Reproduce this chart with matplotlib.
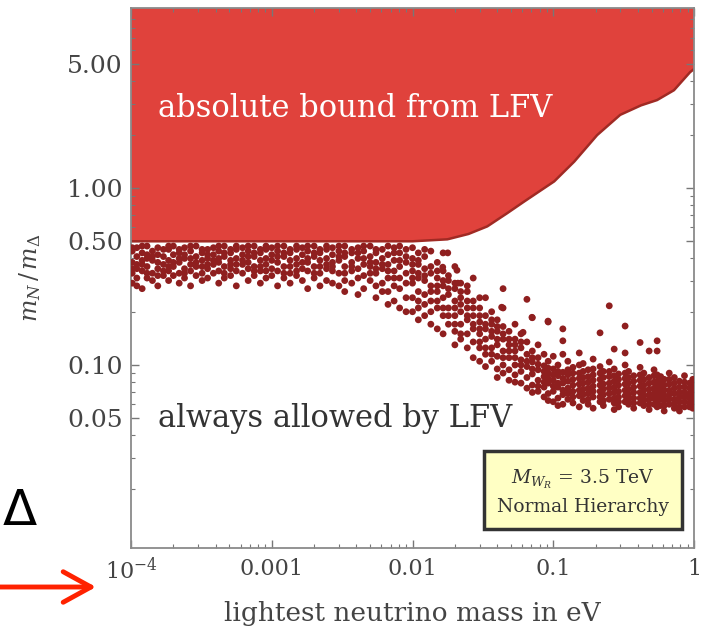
import matplotlib.pyplot as plt
from matplotlib.patches import FancyArrowPatch
from matplotlib.ticker import FixedLocator, LogLocator, NullFormatter

plt.rcParams['font.family'] = 'DejaVu Serif'
plt.rcParams['mathtext.fontset'] = 'dejavuserif'

# lower edge of the region excluded by LFV
bound_mass = [1e-4, 0.01, 0.0177, 0.025, 0.034, 0.047, 0.0622, 0.1016, 0.141,
              0.205, 0.299, 0.42, 0.547, 0.721, 0.937, 1.0]
bound_ratio = [0.5, 0.5, 0.513, 0.55, 0.607, 0.72, 0.839, 1.09, 1.41,
               1.99, 2.59, 2.93, 3.14, 3.57, 4.51, 4.7]

# scan points, grouped by lightest mass: (m_lightest, [m_N/m_Delta, ...])
flat_points = [
    (1.02e-4, [0.46, 0.44, 0.38, 0.35, 0.33, 0.29]),
    (1.1e-4, [0.46, 0.41, 0.37, 0.35, 0.31, 0.28]),
    (1.2e-4, [0.47, 0.43, 0.39, 0.37, 0.34, 0.27]),
    (1.3e-4, [0.47, 0.42, 0.40, 0.36, 0.33, 0.31]),
    (1.42e-4, [0.44, 0.41, 0.39, 0.33, 0.30]),
    (1.55e-4, [0.46, 0.42, 0.38, 0.35, 0.32, 0.28]),
    (1.7e-4, [0.45, 0.41, 0.37, 0.34, 0.32]),
    (1.85e-4, [0.47, 0.45, 0.39, 0.36, 0.34, 0.30]),
    (2.0e-4, [0.47, 0.42, 0.38, 0.36, 0.32]),
    (2.2e-4, [0.45, 0.43, 0.40, 0.38, 0.33, 0.29]),
    (2.4e-4, [0.46, 0.42, 0.40, 0.35, 0.33, 0.31]),
    (2.65e-4, [0.47, 0.44, 0.40, 0.37, 0.34, 0.28]),
    (2.9e-4, [0.47, 0.41, 0.38, 0.36, 0.32]),
    (3.2e-4, [0.45, 0.43, 0.39, 0.36, 0.33, 0.30]),
    (3.5e-4, [0.45, 0.42, 0.40, 0.37, 0.35, 0.31]),
    (3.85e-4, [0.46, 0.42, 0.39, 0.37, 0.33]),
    (4.2e-4, [0.47, 0.44, 0.40, 0.38, 0.34, 0.29]),
    (4.6e-4, [0.47, 0.43, 0.41, 0.36, 0.33, 0.31]),
    (5.1e-4, [0.45, 0.43, 0.39, 0.37, 0.35, 0.32]),
    (5.6e-4, [0.47, 0.45, 0.40, 0.37, 0.34, 0.28]),
    (6.2e-4, [0.46, 0.42, 0.39, 0.37, 0.33]),
    (6.8e-4, [0.47, 0.44, 0.41, 0.38, 0.35, 0.30]),
    (7.5e-4, [0.47, 0.43, 0.41, 0.36, 0.34, 0.32]),
    (8.3e-4, [0.45, 0.43, 0.39, 0.36, 0.34, 0.29]),
    (9.1e-4, [0.47, 0.45, 0.40, 0.37, 0.34, 0.31]),
    (1.0e-3, [0.46, 0.42, 0.39, 0.35, 0.32]),
    (1.1e-3, [0.47, 0.44, 0.41, 0.38, 0.34, 0.28]),
    (1.22e-3, [0.47, 0.43, 0.41, 0.36, 0.33, 0.31]),
    (1.35e-3, [0.45, 0.43, 0.39, 0.36, 0.33, 0.29]),
    (1.5e-3, [0.47, 0.45, 0.40, 0.37, 0.34, 0.32]),
    (1.65e-3, [0.46, 0.42, 0.38, 0.35, 0.30]),
    (1.8e-3, [0.47, 0.44, 0.40, 0.38, 0.34, 0.27]),
    (2.0e-3, [0.47, 0.43, 0.41, 0.36, 0.33, 0.31]),
    (2.2e-3, [0.45, 0.43, 0.39, 0.36, 0.33, 0.28]),
    (2.45e-3, [0.47, 0.45, 0.40, 0.37, 0.35, 0.30]),
    (2.7e-3, [0.46, 0.42, 0.38, 0.36, 0.34, 0.29]),
    (3.0e-3, [0.47, 0.44, 0.41, 0.39, 0.33, 0.28]),
    (3.3e-3, [0.47, 0.43, 0.41, 0.36, 0.33, 0.30, 0.26]),
    (3.7e-3, [0.45, 0.43, 0.38, 0.36, 0.34, 0.29]),
    (4.1e-3, [0.46, 0.43, 0.40, 0.35, 0.31, 0.25]),
    (4.5e-3, [0.47, 0.44, 0.40, 0.37, 0.32, 0.27]),
    (5.0e-3, [0.47, 0.41, 0.38, 0.36, 0.33, 0.30]),
    (5.5e-3, [0.45, 0.43, 0.38, 0.35, 0.33, 0.28, 0.24]),
    (6.1e-3, [0.45, 0.40, 0.37, 0.35, 0.29, 0.26]),
    (6.7e-3, [0.47, 0.42, 0.37, 0.34, 0.31, 0.26, 0.22]),
    (7.4e-3, [0.46, 0.43, 0.39, 0.34, 0.31, 0.28, 0.23]),
    (8.1e-3, [0.47, 0.43, 0.39, 0.36, 0.31, 0.27, 0.21]),
    (9.0e-3, [0.45, 0.41, 0.38, 0.33, 0.29, 0.24, 0.20]),
]

falling_points = [
    (0.0100, [0.46, 0.40, 0.37, 0.34, 0.31, 0.29, 0.24, 0.20]),
    (0.0110, [0.43, 0.39, 0.37, 0.33, 0.31, 0.26, 0.23, 0.21, 0.18]),
    (0.0122, [0.45, 0.41, 0.35, 0.32, 0.30, 0.25, 0.22, 0.19]),
    (0.0135, [0.44, 0.36, 0.33, 0.28, 0.26, 0.23, 0.20, 0.17]),
    (0.0150, [0.38, 0.34, 0.31, 0.28, 0.26, 0.23, 0.21, 0.16]),
    (0.0165, [0.43, 0.34, 0.30, 0.28, 0.24, 0.21, 0.19, 0.15]),
    (0.0180, [0.32, 0.30, 0.27, 0.25, 0.21, 0.19, 0.17]),
    (0.0200, [0.36, 0.29, 0.27, 0.23, 0.21, 0.19, 0.17, 0.155, 0.13]),
    (0.0220, [0.29, 0.26, 0.24, 0.22, 0.20, 0.17, 0.15, 0.14]),
    (0.0245, [0.28, 0.26, 0.23, 0.21, 0.19, 0.18, 0.15, 0.125]),
    (0.0270, [0.31, 0.23, 0.21, 0.19, 0.17, 0.16, 0.135, 0.11]),
    (0.0300, [0.24, 0.21, 0.19, 0.175, 0.16, 0.15, 0.135, 0.125, 0.105]),
    (0.0330, [0.24, 0.19, 0.17, 0.16, 0.14, 0.125, 0.115, 0.098]),
    (0.0365, [0.20, 0.18, 0.17, 0.155, 0.145, 0.125, 0.115, 0.105]),
    (0.0400, [0.18, 0.165, 0.155, 0.14, 0.13, 0.112, 0.095, 0.085]),
    (0.0440, [0.27, 0.21, 0.165, 0.15, 0.14, 0.12, 0.11, 0.10, 0.09]),
    (0.0485, [0.155, 0.14, 0.13, 0.12, 0.11, 0.094, 0.082]),
    (0.0535, [0.17, 0.14, 0.13, 0.12, 0.11, 0.10, 0.088, 0.08]),
    (0.0590, [0.15, 0.135, 0.125, 0.107, 0.1, 0.092, 0.079]),
    (0.0650, [0.235, 0.135, 0.115, 0.105, 0.098, 0.085, 0.074]),
    (0.0710, [0.185, 0.12, 0.11, 0.104, 0.095, 0.089, 0.077, 0.07]),
    (0.0780, [0.13, 0.11, 0.101, 0.094, 0.082, 0.076, 0.071]),
    (0.0860, [0.115, 0.099, 0.092, 0.086, 0.08, 0.075, 0.066]),
    (0.0920, [0.175, 0.105, 0.096, 0.09, 0.084, 0.079, 0.069, 0.063]),
]

tail_points = [
    (0.100, [0.112, 0.095, 0.088, 0.082, 0.076, 0.071, 0.062]),
    (0.108, [0.10, 0.092, 0.087, 0.079, 0.075, 0.065, 0.059]),
    (0.117, [0.16, 0.137, 0.115, 0.091, 0.084, 0.079, 0.072, 0.068, 0.060]),
    (0.127, [0.105, 0.094, 0.088, 0.081, 0.074, 0.069, 0.064]),
    (0.138, [0.097, 0.09, 0.083, 0.077, 0.071, 0.066, 0.061]),
    (0.153, [0.117, 0.1, 0.09, 0.084, 0.078, 0.072, 0.067, 0.058]),
    (0.163, [0.102, 0.092, 0.085, 0.079, 0.073, 0.068, 0.063]),
    (0.177, [0.094, 0.086, 0.08, 0.074, 0.069, 0.064, 0.06]),
    (0.192, [0.108, 0.095, 0.088, 0.082, 0.076, 0.071, 0.066, 0.057]),
    (0.215, [0.152, 0.098, 0.09, 0.083, 0.077, 0.071, 0.066, 0.062]),
    (0.227, [0.092, 0.085, 0.078, 0.073, 0.068, 0.063, 0.059]),
    (0.250, [0.216, 0.104, 0.092, 0.086, 0.079, 0.074, 0.069, 0.064]),
    (0.271, [0.123, 0.095, 0.087, 0.081, 0.075, 0.07, 0.065, 0.061, 0.056]),
    (0.291, [0.089, 0.083, 0.077, 0.071, 0.066, 0.062, 0.058]),
    (0.324, [0.166, 0.117, 0.1, 0.09, 0.084, 0.078, 0.072, 0.067, 0.062]),
    (0.343, [0.092, 0.085, 0.079, 0.073, 0.068, 0.064, 0.06]),
    (0.373, [0.087, 0.081, 0.075, 0.07, 0.065, 0.061, 0.057]),
    (0.414, [0.134, 0.097, 0.088, 0.082, 0.076, 0.07, 0.065, 0.061]),
    (0.44, [0.09, 0.083, 0.077, 0.072, 0.067, 0.063, 0.059]),
    (0.48, [0.12, 0.085, 0.079, 0.073, 0.068, 0.064, 0.06, 0.056]),
    (0.52, [0.094, 0.087, 0.08, 0.074, 0.069, 0.065, 0.06]),
    (0.547, [0.137, 0.12, 0.088, 0.081, 0.076, 0.071, 0.066, 0.062, 0.058]),
    (0.58, [0.086, 0.079, 0.073, 0.068, 0.064, 0.059]),
    (0.614, [0.083, 0.077, 0.072, 0.067, 0.063, 0.059, 0.055]),
    (0.667, [0.09, 0.083, 0.078, 0.072, 0.068, 0.064, 0.06]),
    (0.725, [0.085, 0.079, 0.074, 0.069, 0.064, 0.06, 0.057]),
    (0.788, [0.081, 0.075, 0.07, 0.066, 0.062, 0.058, 0.055]),
    (0.856, [0.087, 0.08, 0.075, 0.07, 0.066, 0.062, 0.058]),
    (0.93, [0.079, 0.074, 0.069, 0.065, 0.061, 0.058]),
    (0.98, [0.083, 0.077, 0.072, 0.067, 0.064, 0.06, 0.057]),
]

stray_mass = [0.0164, 0.0207, 0.021, 0.0178, 0.043, 0.0706, 0.0918, 0.061]
stray_ratio = [0.357, 0.343, 0.29, 0.43, 0.212, 0.186, 0.177, 0.153]

scan_mass, scan_ratio = list(stray_mass), list(stray_ratio)
for group in (flat_points, falling_points, tail_points):
    for m, ratios in group:
        scan_mass += [m] * len(ratios)
        scan_ratio += ratios

fig = plt.figure(figsize=(7.11, 6.35), dpi=100)
ax = fig.add_axes([131 / 711, 1 - 548 / 635, 563 / 711, 540 / 635])
ax.set_xscale('log')
ax.set_yscale('log')
ax.set_xlim(1e-4, 1)
ax.set_ylim(0.00925, 10.4)

ax.fill_between(bound_mass, bound_ratio, 100, facecolor='#E0423C',
                edgecolor='none', zorder=1)
ax.plot(bound_mass, bound_ratio, color='#A02A24', lw=1.8, zorder=2)
ax.scatter(scan_mass, scan_ratio, s=24, marker='o', color='#8F1F1F',
           edgecolors='none', zorder=3)

ax.text(1.55e-4, 2.8, 'absolute bound from LFV', color='white',
        fontsize=22, va='center', ha='left')
ax.text(1.55e-4, 0.05, 'always allowed by LFV', color='#333333',
        fontsize=22, va='center', ha='left')
ax.text(0.163, 0.0192, '$M_{W_R}$ = 3.5 TeV\nNormal Hierarchy',
        fontsize=13.5, color='#333333', ha='center', va='center',
        linespacing=1.55,
        bbox=dict(boxstyle='square,pad=0.7', facecolor='#FFFFC4',
                  edgecolor='#333333', lw=2.5))

ax.yaxis.set_major_locator(FixedLocator([0.05, 0.1, 0.5, 1, 5]))
ax.set_yticklabels(['0.05', '0.10', '0.50', '1.00', '5.00'])
ax.yaxis.set_minor_locator(LogLocator(base=10, subs=range(2, 10)))
ax.yaxis.set_minor_formatter(NullFormatter())
ax.xaxis.set_major_locator(FixedLocator([1e-4, 1e-3, 1e-2, 0.1, 1]))
ax.set_xticklabels(['$10^{-4}$', '0.001', '0.01', '0.1', '1'])
ax.xaxis.set_minor_locator(LogLocator(base=10, subs=range(2, 10)))
ax.xaxis.set_minor_formatter(NullFormatter())

ax.tick_params(which='both', direction='in', top=True, right=True,
               color='#777777', labelcolor='#444444')
ax.tick_params(which='major', length=6, width=1)
ax.tick_params(which='minor', length=3, width=0.8)
ax.tick_params(axis='y', labelsize=18, pad=6)
ax.tick_params(axis='x', labelsize=16, pad=7)
for spine in ax.spines.values():
    spine.set_color('#8a8a8a')
    spine.set_linewidth(1.3)

ax.set_xlabel('lightest neutrino mass in eV', fontsize=19, color='#444444',
              labelpad=12)
fig.text(30 / 711, 1 - 278 / 635, r'$m_N\,/\,m_\Delta$', rotation=90,
         fontsize=17, color='#444444', ha='center', va='center')

# marker pointing at the lower end of the mass axis
fig.text(20 / 711, 1 - 511 / 635, '\u0394', family='DejaVu Sans',
         fontsize=36, color='black', ha='center', va='center')
fig.patches.append(FancyArrowPatch(
    (0, 1 - 587 / 635), (96 / 711, 1 - 587 / 635),
    transform=fig.transFigure, arrowstyle='->,head_length=20,head_width=11',
    mutation_scale=1, shrinkA=0, shrinkB=0, color='#FF2200', lw=3.5))

fig.savefig('out.png', dpi=100)
